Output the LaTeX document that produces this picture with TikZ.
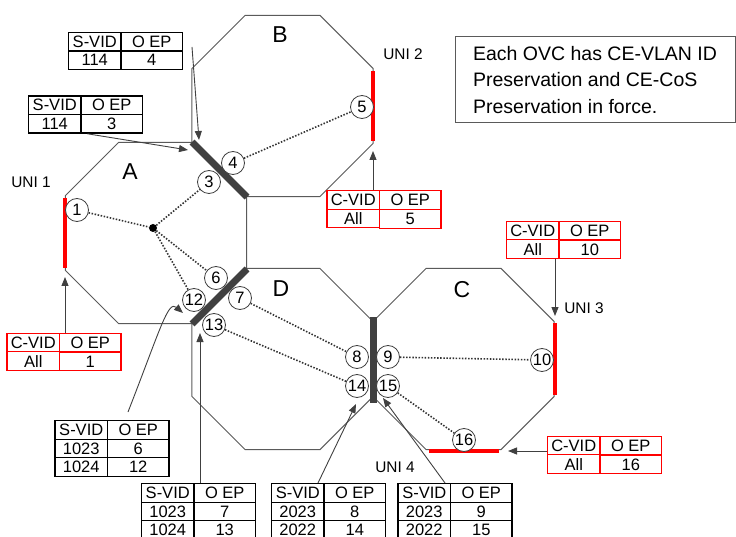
\documentclass[tikz,border=0pt]{standalone}
\usepackage{fontspec}
\setmainfont{Liberation Sans}
\usetikzlibrary{positioning,arrows.meta,shapes.geometric,matrix}
\definecolor{linegray}{RGB}{90,90,90}
\definecolor{bargray}{RGB}{64,64,64}

\begin{document}
\begin{tikzpicture}[x=1pt, y=-1pt,
  >={Triangle[length=9pt,width=7pt]},
  oct/.style={draw=linegray, line width=1pt, regular polygon, regular polygon sides=8,
    minimum size=196pt, inner sep=0pt, outer sep=0pt},
  nni/.style={draw=bargray, line width=7pt},
  uni/.style={draw=red, line width=4pt},
  ep/.style={draw=bargray, circle, fill=white, line width=0.8pt, minimum size=23pt,
    inner sep=0pt, font=\fontsize{16.5}{16.5}\selectfont},
  evc/.style={draw=black!80, line width=1.6pt, dash pattern=on 1.5pt off 1.6pt},
  lbl/.style={font=\fontsize{23}{23}\selectfont},
  unilbl/.style={font=\fontsize{15.4}{16}\selectfont},
  tab/.style={matrix of nodes, inner sep=0pt, column sep=-1.2pt, row sep=-1.2pt,
    nodes={draw, line width=1.2pt, minimum height=18.5pt, inner sep=0pt,
      font=\fontsize{16.5}{16.5}\selectfont},
    column 1/.style={nodes={minimum width=52.5pt}},
    column 2/.style={nodes={minimum width=61.5pt}}},
  stab/.style={tab, nodes={draw=black}},
  ctab/.style={tab, nodes={draw=red}},
  arr/.style={->, draw=bargray, line width=0.9pt},
]
\useasboundingbox (0,0) rectangle (736,537);

% operator domains
\node[oct] (octA) at (156,233) {};
\node[oct] (octB) at (282.5,106) {};
\node[oct] (octD) at (282.5,359) {};
\node[oct] (octC) at (463.5,359) {};
\node[lbl] (lA) at (130,172) {A};
\node[lbl] (lB) at (280,35) {B};
\node[lbl] (lC) at (462,290) {C};
\node[lbl] (lD) at (281,289) {D};

% ENNIs and UNIs
\draw[nni] (192,142) -- (247,197);
\draw[nni] (247,269) -- (192,324);
\draw[nni] (373,317) -- (373,403);
\draw[uni] (65,198) -- (65,268);
\draw[uni] (373,71) -- (373,141);
\draw[uni] (555,323) -- (555,395);
\draw[uni] (429,451) -- (499,451);
\node[unilbl] (u1) at (31,182) {UNI 1};
\node[unilbl] (u2) at (403,54) {UNI 2};
\node[unilbl] (u3) at (584,308) {UNI 3};
\node[unilbl] (u4) at (395,467) {UNI 4};

% OVC end points
\node[circle, fill=black, minimum size=8pt, inner sep=0pt] (hub) at (153,228) {};
\node[ep] (e1) at (77,210) {1};
\node[ep] (e3) at (209,182) {3};
\node[ep] (e4) at (233,163) {4};
\node[ep] (e5) at (362,107) {5};
\node[ep] (e6) at (216,278) {6};
\node[ep] (e7) at (240,298) {7};
\node[ep] (e12) at (194,300) {12};
\node[ep] (e13) at (214,325) {13};
\node[ep] (e8) at (357,357) {8};
\node[ep] (e9) at (388,357) {9};
\node[ep] (e14) at (357,386) {14};
\node[ep] (e15) at (388,386) {15};
\node[ep] (e10) at (542,360) {10};
\node[ep] (e16) at (464,440) {16};

\draw[evc] (e1) -- (hub);
\draw[evc] (hub) -- (e3);
\draw[evc] (hub) -- (e6);
\draw[evc] (hub) -- (e12);
\draw[evc] (e4) -- (e5);
\draw[evc] (e7) -- (e8);
\draw[evc] (e13) -- (e14);
\draw[evc] (e9) -- (e10);
\draw[evc] (e15) -- (e16);

% note
\node[draw=linegray, line width=1pt, inner xsep=12pt, minimum width=280pt, minimum height=86pt,
  align=left, font=\fontsize{19.5}{26.5}\selectfont] (note) at (595,80)
  {Each OVC has CE-VLAN ID\\Preservation and CE-CoS\\Preservation in force.};

% tables
\matrix[stab] (tb4) at (125.5,51) {S-VID & O EP\\ 114 & 4\\};
\matrix[stab] (tb3) at (85.5,114.5) {S-VID & O EP\\ 114 & 3\\};
\matrix[ctab] (tu1) at (64,352) {C-VID & O EP\\ All & 1\\};
\matrix[ctab] (tu5) at (384,209.5) {C-VID & O EP\\ All & 5\\};
\matrix[ctab] (tu10) at (563.5,240) {C-VID & O EP\\ All & 10\\};
\matrix[ctab] (tu16) at (604.5,455) {C-VID & O EP\\ All & 16\\};
\matrix[stab] (tb6) at (112,448.5) {S-VID & O EP\\ 1023 & 6\\ 1024 & 12\\};
\matrix[stab] (tb7) at (198.5,511.5) {S-VID & O EP\\ 1023 & 7\\ 1024 & 13\\};
\matrix[stab] (tb8) at (328.5,511.5) {S-VID & O EP\\ 2023 & 8\\ 2022 & 14\\};
\matrix[stab] (tb9) at (455,511.5) {S-VID & O EP\\ 2023 & 9\\ 2022 & 15\\};

% pointers
\coordinate (s4) at (192,47);
\coordinate (p4) at (199,140);
\coordinate (p3) at (188,150);
\coordinate (p1) at (65,277);
\coordinate (p5) at (373,151);
\coordinate (p10) at (555,316);
\coordinate (p16) at (508,451);
\coordinate (s6) at (128,412);
\coordinate (p6) at (183,313);
\coordinate (p7) at (200,333);
\coordinate (s8) at (318,483);
\coordinate (p8) at (356,404);
\coordinate (s9) at (445,483);
\coordinate (p9) at (383,398);
\draw[arr] (s4) -- (p4);
\draw[arr] ([xshift=2pt]tb3.south) -- (p3);
\draw[arr] (tu1.north -| p1) -- (p1);
\draw[arr] (tu5.north -| p5) -- (p5);
\draw[arr] (tu10.south -| p10) -- (p10);
\draw[arr] (tu16.west |- p16) -- (p16);
\draw[arr] (s6) .. controls (160,330) and (168,300) .. (p6);
\draw[arr] (tb7.north -| p7) -- (p7);
\draw[arr] (s8) -- (p8);
\draw[arr] (s9) -- (p9);
\end{tikzpicture}
\end{document}
